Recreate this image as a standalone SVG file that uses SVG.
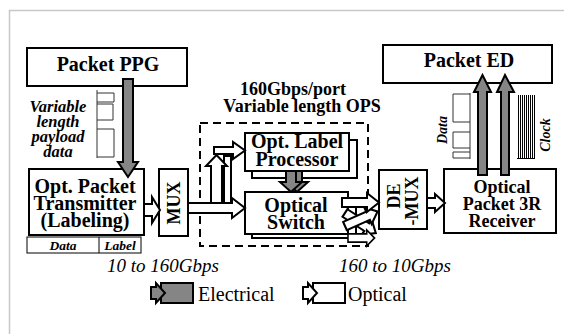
<svg xmlns="http://www.w3.org/2000/svg" width="564" height="334" viewBox="0 0 564 334">
<defs>
<style>
.box{fill:#fff;stroke:#000;stroke-width:2}
.t{font-family:"Liberation Serif","Times New Roman",serif;font-weight:bold;font-size:20px;fill:#000;text-anchor:middle}
.s{font-size:18px}
.bi{font-family:"Liberation Serif","Times New Roman",serif;font-weight:bold;font-style:italic;fill:#000;text-anchor:middle}
.it{font-family:"Liberation Serif","Times New Roman",serif;font-style:italic;font-size:19px;fill:#000}
.rg{font-family:"Liberation Serif","Times New Roman",serif;font-size:20px;fill:#000}
.el{fill:#858585;stroke:#000;stroke-width:2;stroke-linejoin:miter}
.op{fill:#fff;stroke:#000;stroke-width:2;stroke-linejoin:miter}
.thin{fill:none;stroke:#333;stroke-width:1}
</style>
<path id="oa" d="M0,-4.5 H24 V-9 L34,0 L24,9 V4.5 H0 Z"/>
</defs>
<rect width="564" height="334" fill="#fff"/>
<path d="M9.5,334 V10.5 H564" fill="none" stroke="#c8c8c8" stroke-width="1.5"/>

<g id="dashed-ops">
<rect x="200" y="123" width="168" height="123" fill="none" stroke="#000" stroke-width="2" stroke-dasharray="8,5"/>
<text class="t s" x="293" y="95">160Gbps/port</text>
<text class="t s" x="302" y="112">Variable length OPS</text>
</g>

<g id="ppg">
<rect class="box" x="27" y="48" width="160" height="38"/>
<text class="t" x="108" y="71">Packet PPG</text>
</g>

<g id="payload">
<path class="thin" d="M97,90 V158 M97,93 H114 V102 H97 M97,104 H113 V120 H97 M97,129 H114 V157 H97"/>
<text class="bi" font-size="16.5" x="58" y="112">Variable</text>
<text class="bi" font-size="16.5" x="58" y="127">length</text>
<text class="bi" font-size="16.5" x="58" y="142">payload</text>
<text class="bi" font-size="16.5" x="58" y="157">data</text>
</g>

<g id="transmitter">
<rect class="box" x="29" y="169" width="115" height="66"/>
<text class="t" x="85" y="193">Opt. Packet</text>
<text class="t" x="85" y="210">Transmitter</text>
<text class="t" x="85" y="227">(Labeling)</text>
</g>

<g id="packet-format">
<rect x="27" y="237" width="114" height="16" fill="#fff" stroke="#000" stroke-width="1"/>
<line x1="99" y1="237" x2="99" y2="253" stroke="#000" stroke-width="1"/>
<text class="bi" font-size="13.5" x="63" y="250">Data</text>
<text class="bi" font-size="13.5" x="120" y="250">Label</text>
</g>

<g id="mux">
<rect class="box" x="159" y="169" width="29" height="67"/>
<text class="t s" transform="translate(180,203) rotate(-90)">MUX</text>
</g>

<g id="label-processor">
<rect class="box" x="252" y="140" width="105" height="38"/>
<rect class="box" x="245" y="133" width="104" height="38"/>
<text class="t" x="297" y="148">Opt. Label</text>
<text class="t" x="297" y="166">Processor</text>
</g>

<g id="optical-switch">
<rect class="box" x="252" y="198" width="104" height="40"/>
<rect class="box" x="245" y="192" width="103" height="42"/>
<text class="t" x="296" y="212">Optical</text>
<text class="t" x="296" y="229">Switch</text>
</g>

<g id="demux">
<rect class="box" x="379" y="170" width="48" height="59"/>
<text class="t s" transform="translate(400,196) rotate(-90)">DE</text>
<text class="t s" transform="translate(418,201) rotate(-90)">-MUX</text>
</g>

<g id="receiver">
<rect class="box" x="444" y="169" width="112" height="64"/>
<text class="t s" x="502" y="193">Optical</text>
<text class="t s" x="502" y="210">Packet 3R</text>
<text class="t s" x="502" y="227">Receiver</text>
</g>

<g id="ed">
<rect class="box" x="383" y="45" width="169" height="38"/>
<text class="t" x="469" y="67">Packet ED</text>
</g>

<g id="data-clock">
<path class="thin" d="M470,93 V159 M470,94 H453 V122 H470 M470,132 H453 V148 H470 M470,152 H453 V158 H470"/>
<text class="bi" font-size="14" transform="translate(447,130) rotate(-90)">Data</text>
<path fill="none" stroke="#000" stroke-width="1" shape-rendering="crispEdges" d="M518.5,95V158M520.5,95V158M522.5,95V158M524.5,95V158M526.5,95V158M528.5,95V158M530.5,95V158M532.5,95V158M534.5,95V158M517,158.5H535"/>
<text class="bi" font-size="14" transform="translate(550,135) rotate(-90)">Clock</text>
</g>

<g id="connectors">
<polygon class="el" points="123,79 133,79 133,162 138,162 128,177 118,162 123,162"/>
<polygon class="op" points="144,204 152,204 152,197 160,210 152,223 152,216 144,216"/>
<rect class="op" x="224" y="156" width="7" height="47"/>
<polygon class="op" points="211,203 211,166 206,166 216.5,155 227,166 222,166 222,203"/>
<polygon class="op" points="214,147 233,147 233,142 245,150.5 233,159 233,154 214,154"/>
<polygon class="op" points="188,203 232,203 232,198 245,208 232,218 232,213 188,213"/>
<polygon class="el" points="292,171 302,171 302,182 308,182 297,192 286,182 292,182"/>
<polygon class="el" points="286,171 296,171 296,182 302,182 291,192 280,182 286,182"/>
<use href="#oa" class="op" transform="translate(345,213) rotate(33) scale(1.08,1)"/>
<use href="#oa" class="op" transform="translate(345,226) rotate(-24) scale(1.05,1)"/>
<use href="#oa" class="op" transform="translate(348,238) rotate(0) scale(0.78,0.9)"/>
<polygon class="op" points="342,198 367,198 367,193 379,202.5 367,212 367,207 342,207"/>
<polygon class="op" points="427,198 435,198 435,194 445,203 435,212 435,208 427,208"/>
<polygon class="el" points="478,175 478,92 474,92 482.5,75 491,92 487,92 487,175"/>
<polygon class="el" points="501,175 501,92 497,92 505,75 514,92 509,92 509,175"/>
</g>

<g id="legend">
<rect class="el" x="161" y="283" width="32" height="20"/>
<polygon class="el" points="151,287 156,287 156,283 165,293 156,303 156,299 151,299"/>
<text class="rg" x="198" y="301">Electrical</text>
<rect class="op" x="313" y="283" width="32" height="20"/>
<polygon class="op" points="303,287 308,287 308,283 317,293 308,303 308,299 303,299"/>
<text class="rg" x="348" y="301">Optical</text>
</g>

<g id="rates">
<text class="it" x="107" y="272">10 to 160Gbps</text>
<text class="it" x="339" y="272">160 to 10Gbps</text>
</g>
</svg>
